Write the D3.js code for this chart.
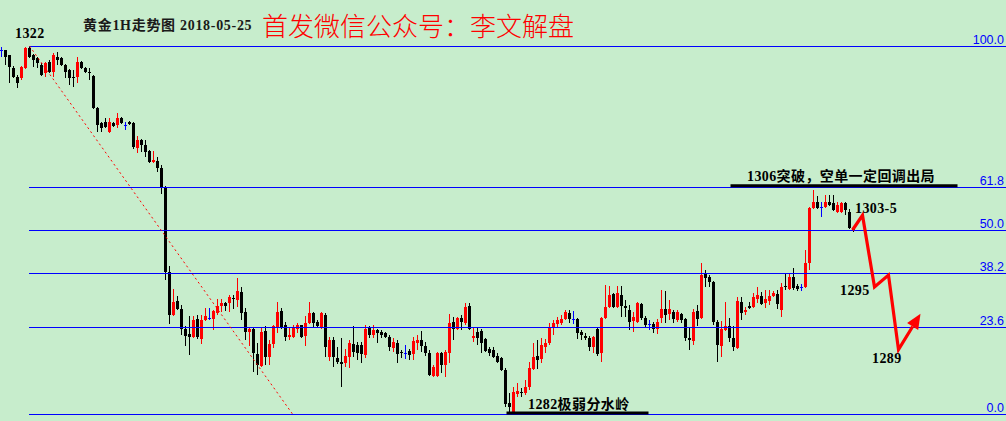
<!DOCTYPE html>
<html><head><meta charset="utf-8">
<script src="https://cdn.jsdelivr.net/npm/d3@7"></script>
<style>
html,body{margin:0;padding:0;background:#c7edcc;overflow:hidden}
svg{display:block}
</style></head><body>
<svg id="chart" width="1006" height="421"></svg>
<script>
// ---- Data (gold 1H candles) ----
const opens=[
1321.6,1321.6,1321.0,1319.6,1318.6,1318.5,1319.6,1321.8,1321.0,1320.7,
1319.9,1319.1,1320.3,1319.2,1320.8,1320.7,1319.9,1319.4,1318.6,1318.6,
1320.3,1319.6,1319.2,1318.7,1315.3,1313.6,1313.7,1312.7,1313.6,1313.4,
1314.2,1313.4,1313.7,1313.6,1310.9,1311.8,1311.2,1310.6,1309.4,1309.5,
1308.7,1306.7,1297.4,1292.8,1294.3,1293.4,1291.2,1290.7,1290.4,1292.3,
1290.2,1292.2,1292.4,1292.3,1293.0,1293.7,1294.1,1294.1,1294.6,1294.4,
1295.3,1293.1,1290.9,1291.2,1288.5,1287.2,1291.0,1288.2,1289.6,1291.5,
1293.2,1291.7,1290.4,1290.4,1291.2,1291.7,1290.5,1291.9,1293.0,1292.0,
1291.5,1292.8,1288.2,1290.0,1288.1,1287.7,1287.5,1288.2,1289.6,1289.5,
1289.5,1288.4,1291.5,1290.6,1291.1,1290.9,1290.8,1290.4,1289.2,1289.7,
1288.7,1288.6,1288.8,1288.5,1289.7,1290.0,1289.4,1288.6,1286.1,1286.1,
1288.6,1287.3,1288.6,1292.0,1291.2,1292.4,1291.9,1293.7,1290.3,1290.9,
1291.0,1290.2,1289.1,1289.0,1288.3,1288.1,1286.8,1283.2,1282.1,1284.2,
1284.4,1284.3,1284.9,1286.9,1288.3,1288.0,1289.3,1289.7,1291.5,1291.8,
1291.9,1292.3,1293.0,1292.3,1292.3,1290.9,1290.5,1290.3,1289.3,1291.2,
1288.6,1292.4,1293.6,1295.0,1293.6,1294.9,1293.7,1293.3,1292.1,1292.0,
1294.0,1292.4,1291.8,1291.8,1291.2,1292.4,1293.4,1292.9,1293.1,1292.2,
1292.9,1292.3,1290.3,1289.9,1293.2,1292.4,1297.3,1296.9,1296.3,1292.0,
1289.4,1291.1,1291.6,1290.3,1289.2,1294.2,1293.1,1293.7,1293.6,1294.5,
1294.8,1294.1,1294.3,1294.8,1295.0,1293.3,1295.9,1295.6,1296.9,1295.9,
1295.8,1295.8,1298.4,1304.4,1305.0,1304.5,1304.5,1305.0,1304.9,1304.0,
1304.0,1304.9,1304.0,1302.1];
const highs=[
1321.9,1321.6,1321.0,1319.8,1318.8,1319.8,1321.9,1322.0,1321.1,1320.8,
1320.2,1320.3,1320.5,1321.2,1321.3,1320.8,1320.0,1319.5,1319.4,1320.8,
1320.4,1319.7,1319.6,1318.8,1315.4,1313.7,1314.2,1314.2,1313.7,1314.7,
1314.3,1313.7,1313.8,1313.7,1312.2,1311.9,1311.8,1310.7,1310.6,1309.9,
1309.1,1306.8,1298.1,1295.6,1294.8,1293.8,1291.6,1292.7,1292.7,1292.8,
1292.8,1293.5,1293.5,1293.3,1294.5,1294.5,1294.2,1294.9,1294.9,1296.8,
1295.8,1293.5,1291.5,1291.3,1289.7,1291.5,1291.6,1290.0,1291.7,1294.2,
1293.5,1292.0,1291.5,1291.7,1291.9,1291.7,1292.7,1294.2,1293.1,1292.2,
1293.1,1293.0,1290.4,1290.4,1289.3,1290.3,1289.1,1290.0,1291.6,1289.8,
1289.8,1291.7,1291.6,1291.7,1291.2,1291.1,1290.9,1290.6,1290.3,1290.0,
1289.0,1289.5,1289.1,1290.4,1290.6,1291.0,1289.8,1289.0,1287.3,1288.7,
1288.7,1289.0,1292.9,1292.5,1292.5,1292.8,1294.1,1294.1,1291.5,1291.5,
1291.2,1290.3,1289.3,1289.3,1288.6,1288.2,1287.0,1284.3,1284.9,1285.4,
1284.8,1285.7,1287.7,1289.7,1290.0,1290.3,1290.2,1291.9,1292.2,1292.5,
1292.8,1293.3,1293.3,1293.2,1292.4,1291.1,1290.8,1290.5,1290.5,1291.3,
1292.5,1296.0,1295.9,1295.2,1295.9,1295.9,1294.4,1293.8,1293.1,1294.2,
1294.1,1292.7,1292.2,1292.0,1292.3,1295.5,1295.4,1294.4,1293.3,1293.3,
1293.0,1292.4,1291.3,1293.4,1293.8,1298.4,1297.7,1297.1,1296.5,1292.2,
1292.1,1294.2,1292.4,1291.6,1294.7,1294.7,1293.6,1294.2,1295.2,1295.8,
1295.3,1295.5,1295.5,1295.4,1295.5,1296.2,1297.3,1297.3,1297.9,1296.1,
1296.1,1299.8,1304.5,1306.3,1305.7,1305.0,1305.8,1305.8,1305.8,1305.0,
1305.0,1305.0,1304.3,1302.2];
const lows=[
1320.8,1319.9,1318.0,1318.5,1317.4,1318.3,1319.5,1320.7,1319.7,1319.6,
1318.7,1318.6,1319.1,1318.6,1319.9,1319.8,1318.5,1317.8,1317.5,1318.0,
1319.5,1319.1,1318.3,1315.2,1312.7,1312.7,1313.1,1312.5,1313.2,1313.1,
1313.5,1312.9,1313.4,1310.8,1310.4,1310.5,1309.9,1309.3,1309.3,1308.3,
1305.9,1296.6,1291.8,1292.7,1293.3,1290.6,1289.4,1288.4,1290.3,1290.2,
1289.6,1292.1,1292.2,1291.1,1292.8,1293.1,1293.2,1293.1,1293.4,1293.6,
1292.2,1290.0,1289.4,1286.6,1286.2,1287.1,1287.3,1287.3,1289.2,1290.8,
1291.2,1289.9,1290.0,1290.3,1290.8,1290.3,1289.4,1291.8,1291.5,1291.3,
1291.2,1288.2,1287.8,1287.1,1287.4,1284.9,1287.1,1287.0,1288.2,1287.9,
1287.5,1288.1,1290.3,1290.3,1289.7,1290.3,1290.3,1288.8,1288.7,1287.5,
1288.1,1288.0,1287.9,1287.9,1289.0,1288.7,1288.3,1286.1,1286.0,1286.0,
1286.5,1286.0,1287.5,1290.0,1291.1,1291.1,1291.7,1291.1,1289.8,1289.5,
1288.6,1288.7,1288.3,1288.1,1287.5,1286.7,1282.8,1282.2,1282.0,1283.8,
1283.8,1284.1,1284.6,1286.8,1286.9,1287.5,1288.6,1289.5,1290.6,1291.5,
1291.7,1292.2,1291.9,1291.8,1290.2,1290.0,1290.0,1288.8,1288.6,1288.3,
1287.7,1292.3,1293.5,1293.5,1293.5,1292.5,1292.5,1291.1,1290.9,1291.9,
1292.2,1291.5,1291.1,1290.8,1290.7,1291.9,1291.9,1292.2,1291.9,1292.0,
1291.9,1289.9,1289.0,1289.5,1291.6,1292.3,1295.8,1295.8,1291.7,1287.7,
1288.2,1291.0,1289.8,1288.8,1289.1,1292.2,1292.8,1293.4,1293.5,1294.1,
1293.8,1293.5,1293.8,1294.7,1293.4,1292.5,1295.5,1295.5,1295.5,1295.4,
1295.4,1295.7,1297.7,1304.3,1304.3,1303.4,1304.4,1304.6,1304.1,1303.8,
1303.8,1303.6,1302.1,1301.8];
const closes=[
1321.6,1320.8,1319.7,1318.6,1318.0,1319.7,1321.8,1320.8,1320.5,1320.2,
1318.8,1320.2,1319.2,1321.0,1320.5,1319.9,1319.2,1318.5,1318.5,1320.3,
1319.6,1319.2,1319.1,1315.3,1313.4,1313.1,1313.2,1313.7,1313.3,1314.2,
1313.6,1313.4,1313.5,1311.0,1311.8,1311.2,1310.5,1309.4,1309.6,1308.7,
1306.7,1297.4,1292.8,1294.2,1293.4,1291.2,1290.5,1290.4,1292.2,1290.4,
1292.2,1292.7,1292.4,1293.2,1293.7,1294.1,1293.7,1294.7,1294.5,1295.4,
1293.0,1290.9,1291.2,1288.6,1287.3,1290.9,1288.2,1289.6,1291.6,1293.1,
1291.5,1290.4,1290.6,1291.5,1291.7,1290.4,1291.9,1293.0,1291.9,1291.6,
1293.0,1289.3,1290.0,1288.2,1287.7,1287.4,1288.3,1289.7,1288.7,1288.6,
1288.5,1291.2,1290.6,1291.1,1290.8,1290.6,1290.4,1289.3,1289.8,1288.5,
1288.6,1288.6,1288.4,1289.9,1290.0,1289.4,1288.6,1286.2,1287.1,1288.6,
1287.3,1288.7,1291.9,1291.2,1292.4,1292.0,1293.6,1291.2,1290.5,1290.3,
1289.7,1288.8,1288.6,1288.2,1287.7,1286.8,1283.1,1282.8,1284.4,1284.5,
1284.3,1284.9,1287.0,1288.2,1287.9,1289.5,1289.7,1291.5,1291.9,1292.2,
1292.3,1293.1,1292.3,1292.3,1290.8,1290.6,1290.3,1289.3,1290.4,1288.5,
1292.4,1293.6,1294.9,1293.6,1295.2,1293.7,1293.5,1292.0,1292.5,1294.1,
1292.4,1291.7,1291.8,1291.2,1292.0,1293.4,1292.8,1293.4,1292.3,1293.1,
1292.2,1290.3,1290.0,1293.1,1292.3,1297.1,1296.8,1296.3,1292.0,1289.5,
1291.2,1291.6,1290.3,1289.3,1294.3,1293.0,1293.3,1293.5,1294.7,1294.9,
1294.0,1294.5,1294.8,1295.2,1294.0,1295.8,1295.8,1296.9,1295.7,1295.6,
1295.8,1298.4,1304.4,1305.0,1304.4,1304.5,1305.0,1304.7,1304.2,1304.7,
1304.9,1304.2,1302.2,1301.9];

// Fibonacci retracement (from the 1322 high to the 1282 low)
const swingHigh=1322, swingLow=1282, swingStartIndex=7;
const fibLevels=[100.0,61.8,50.0,38.2,23.6,0.0];
const fibLabels=["100.0","61.8","50.0","38.2","23.6","0.0"];

// Red dotted trend line (index, price)
const trendIdx=[7,72.75];
const trendPrice=[1322,1282];

// Forecast zig-zag arrow (index, price)
const pathIdx=[212.75,215.25,218.25,221.75,224.25,229.75];
const pathPrice=[1302.0,1303.6,1295.8,1297.1,1289.0,1292.9];

// Text annotations (index, price)
const noteText=["1322","1306突破，空单一定回调出局","1303-5","1295","1289","1282极弱分水岭"];
const noteIdx=[3.5,186.5,213.5,209.75,217.75,131.75];
const notePrice=[1322.9,1307.3,1303.85,1294.9,1287.5,1282.5];

// Thick underline bars (index start, index end, price)
const barIdx0=[182.25,126.25];
const barIdx1=[239,161.75];
const barPrice=[1306.7,1282];

const title="黄金1H走势图 2018-05-25";
const banner="首发微信公众号：李文解盘";

// ---- Drawing ----
const W=1006,H=421;
const svg=d3.select("#chart");
svg.append("rect").attr("width",W).attr("height",H).attr("fill","#c7edcc");

const n=opens.length;
const x=d3.scaleLinear().domain([0,213]).range([1.5,853.5]);
const y=d3.scaleLinear().domain([swingLow,swingHigh]).range([414,46]);

const candles=d3.range(n).map(i=>({i,o:opens[i],h:highs[i],l:lows[i],c:closes[i]}));
const col=d=>d.c>d.o?"#ff0000":(d.c<d.o?"#000000":"#0000ff");

const g=svg.append("g");
g.selectAll("rect.wick").data(candles).join("rect").attr("class","wick")
 .attr("x",d=>x(d.i)-0.5).attr("width",1)
 .attr("y",d=>Math.round(y(d.h)))
 .attr("height",d=>Math.max(1,Math.round(y(d.l))-Math.round(y(d.h))))
 .attr("fill",col).attr("shape-rendering","crispEdges");
g.selectAll("rect.body").data(candles).join("rect").attr("class","body")
 .attr("x",d=>x(d.i)-1.5).attr("width",3)
 .attr("y",d=>Math.round(y(Math.max(d.o,d.c))))
 .attr("height",d=>Math.max(1,Math.round(y(Math.min(d.o,d.c)))-Math.round(y(Math.max(d.o,d.c)))))
 .attr("fill",col).attr("shape-rendering","crispEdges");

// Fibonacci lines
const fib=fibLevels.map((lv,k)=>({lv,label:fibLabels[k],p:swingLow+(swingHigh-swingLow)*lv/100}));
svg.selectAll("line.fib").data(fib).join("line").attr("class","fib")
 .attr("x1",x(swingStartIndex)-0.5).attr("x2",W)
 .attr("y1",d=>Math.round(y(d.p))+0.5).attr("y2",d=>Math.round(y(d.p))+0.5)
 .attr("stroke","#0000ff").attr("stroke-width",1).attr("shape-rendering","crispEdges");
svg.selectAll("text.fib").data(fib).join("text").attr("class","fib")
 .attr("x",1004).attr("y",d=>Math.round(y(d.p))-2)
 .attr("text-anchor","end").attr("fill","#0000ff")
 .attr("font-family","'Liberation Sans',Arial,sans-serif").attr("font-size",12.5)
 .text(d=>d.label);

// trend line
svg.append("line")
 .attr("x1",x(trendIdx[0])).attr("y1",y(trendPrice[0]))
 .attr("x2",x(trendIdx[1])).attr("y2",y(trendPrice[1]))
 .attr("stroke","#ff0000").attr("stroke-width",1).attr("stroke-dasharray","2,3");

// underline bars
svg.selectAll("line.bar").data(barIdx0.map((a,k)=>({a,b:barIdx1[k],p:barPrice[k]}))).join("line")
 .attr("class","bar")
 .attr("x1",d=>x(d.a)).attr("x2",d=>x(d.b))
 .attr("y1",d=>y(d.p)-1).attr("y2",d=>y(d.p)-1)
 .attr("stroke","#000").attr("stroke-width",3);

// forecast arrow
const pts=pathIdx.map((a,k)=>[x(a),y(pathPrice[k])]);
const E=pts[pts.length-1],P=pts[pts.length-2];
const dx=E[0]-P[0],dy=E[1]-P[1],len=Math.hypot(dx,dy);
const ux=dx/len,uy=dy/len,L=15,w=6.5;
const B=[E[0]-ux*L,E[1]-uy*L];
const linePts=pts.slice(0,-1).concat([B]);
svg.append("path").attr("d",d3.line()(linePts))
 .attr("fill","none").attr("stroke","#ff0000").attr("stroke-width",3.2)
 .attr("stroke-linejoin","miter");
svg.append("path").attr("d",d3.line()([E,[B[0]-uy*w,B[1]+ux*w],[B[0]+uy*w,B[1]-ux*w]])+"Z")
 .attr("fill","#ff0000");

// annotations
const serif="'Liberation Serif','Times New Roman','Noto Sans CJK SC',serif";
svg.selectAll("text.note").data(noteText.map((t,k)=>({t,i:noteIdx[k],p:notePrice[k]}))).join("text")
 .attr("class","note")
 .attr("x",d=>x(d.i)-0.5).attr("y",d=>y(d.p))
 .attr("font-family",serif).attr("font-weight","bold").attr("font-size",14)
 .attr("letter-spacing",0.4)
 .attr("fill","#000").text(d=>d.t);

svg.append("text").attr("x",83).attr("y",30)
 .attr("font-family",serif).attr("font-weight","bold").attr("font-size",14)
 .attr("letter-spacing",0.7)
 .attr("fill","#1a1a1a").text(title);
svg.append("text").attr("x",262).attr("y",36)
 .attr("font-family","'Noto Sans CJK SC','Noto Sans',sans-serif").attr("font-size",26)
 .attr("font-weight",300)
 .attr("fill","#ff0000").text(banner);
</script>
</body></html>
